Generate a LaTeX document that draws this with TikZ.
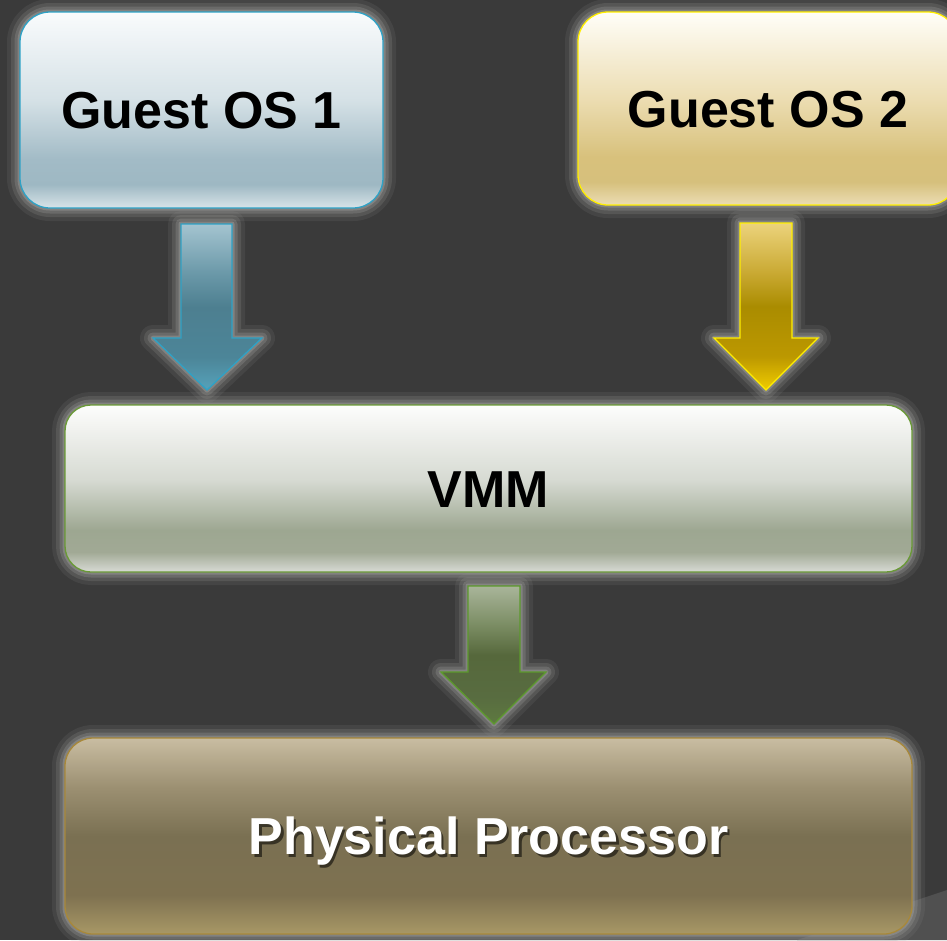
\documentclass[tikz,border=0pt]{standalone}
\usepackage{fontspec}
\setmainfont{Liberation Sans}

% palette
\definecolor{bgc}{HTML}{3A3A3A}
\definecolor{bgcorner}{HTML}{505050}
\definecolor{glowc}{HTML}{9A9A98}
% guest 1 (blue)
\definecolor{gaA}{HTML}{F9FBFC}
\definecolor{gaB}{HTML}{D5E1E6}
\definecolor{gaC}{HTML}{A2BBC6}
\definecolor{gaD}{HTML}{9EB8C3}
\definecolor{gaE}{HTML}{D8E4E8}
\definecolor{gaEdge}{HTML}{2EA2C6}
% guest 2 (gold)
\definecolor{gbA}{HTML}{FFFEF8}
\definecolor{gbB}{HTML}{ECDDB2}
\definecolor{gbC}{HTML}{D8C17C}
\definecolor{gbD}{HTML}{D6C07C}
\definecolor{gbE}{HTML}{EBDDB4}
\definecolor{gbEdge}{HTML}{FFEE00}
% vmm (green-grey)
\definecolor{vmA}{HTML}{FDFDFC}
\definecolor{vmB}{HTML}{D6DAD2}
\definecolor{vmC}{HTML}{9DA791}
\definecolor{vmD}{HTML}{A1A995}
\definecolor{vmE}{HTML}{D8DBD5}
\definecolor{vmEdge}{HTML}{6A9A36}
% processor (bronze)
\definecolor{ppA}{HTML}{C9BDA2}
\definecolor{ppB}{HTML}{9C9072}
\definecolor{ppC}{HTML}{7A7052}
\definecolor{ppD}{HTML}{7E7150}
\definecolor{ppE}{HTML}{A89866}
\definecolor{ppEdge}{HTML}{A8883A}
% arrows
\definecolor{aaA}{HTML}{A4C4D0}
\definecolor{aaB}{HTML}{6A98A8}
\definecolor{aaC}{HTML}{4D7F90}
\definecolor{aaD}{HTML}{4C8598}
\definecolor{aaE}{HTML}{56A2BA}
\definecolor{abA}{HTML}{ECD37C}
\definecolor{abB}{HTML}{C9A932}
\definecolor{abC}{HTML}{AA8C00}
\definecolor{abD}{HTML}{BC9800}
\definecolor{abE}{HTML}{F0CC00}
\definecolor{acA}{HTML}{A9B59A}
\definecolor{acB}{HTML}{788A60}
\definecolor{acC}{HTML}{56683C}
\definecolor{acD}{HTML}{586C40}
\definecolor{acE}{HTML}{5E7A40}
\definecolor{acEdge}{HTML}{5C9A2C}

% vertical shadings: 25bp = bottom of the shape, 75bp = top
\newcommand{\mkshade}[6]{%
  \pgfdeclareverticalshading{#1}{100bp}{%
    color(0bp)=(#6); color(25bp)=(#6); color(31bp)=(#5);
    color(37.5bp)=(#4); color(52.5bp)=(#3); color(75bp)=(#2); color(100bp)=(#2)}}
\mkshade{shGa}{gaA}{gaB}{gaC}{gaD}{gaE}
\mkshade{shGb}{gbA}{gbB}{gbC}{gbD}{gbE}
\mkshade{shVm}{vmA}{vmB}{vmC}{vmD}{vmE}
\pgfdeclareverticalshading{shPp}{100bp}{%
  color(0bp)=(ppE); color(25bp)=(ppE); color(35bp)=(ppD);
  color(50bp)=(ppC); color(62.5bp)=(ppB); color(75bp)=(ppA); color(100bp)=(ppA)}
\newcommand{\mkarrowshade}[6]{%
  \pgfdeclareverticalshading{#1}{100bp}{%
    color(0bp)=(#6); color(25bp)=(#6); color(35bp)=(#5);
    color(50bp)=(#4); color(60bp)=(#3); color(75bp)=(#2); color(100bp)=(#2)}}
\mkarrowshade{shAa}{aaA}{aaB}{aaC}{aaD}{aaE}
\mkarrowshade{shAb}{abA}{abB}{abC}{abD}{abE}
\mkarrowshade{shAc}{acA}{acB}{acC}{acD}{acE}

\tikzset{
  glow/.style={
    preaction={draw=glowc, line width=26pt, draw opacity=0.12, line join=round},
    preaction={draw=glowc, line width=18pt, draw opacity=0.2, line join=round},
    preaction={draw=glowc, line width=11pt, draw opacity=0.3, line join=round},
    preaction={draw=glowc, line width=5pt, draw opacity=0.5, line join=round}},
  layerbox/.style={glow, rectangle, rounded corners=#1, inner sep=0pt,
    line width=1.3pt, font=\fontsize{52}{60}\selectfont\bfseries,
    text height=37pt, text depth=0pt},
  blockarrow/.style={glow, line width=1.3pt, line join=miter},
}

\begin{document}
\begin{tikzpicture}[x=1pt, y=-1pt]
  % canvas
  \fill[bgc] (0,0) rectangle (947,940);
  \fill[bgcorner] (797,940) -- (947,890) -- (947,940) -- cycle;
  \useasboundingbox (0,0) rectangle (947,940);

  % layers
  \node[layerbox=30pt, draw=gaEdge, shading=shGa, minimum width=363pt,
        minimum height=196pt] (guest1) at (201.5,110) {Guest OS 1};
  \node[layerbox=30pt, draw=gbEdge, shading=shGb, minimum width=380pt,
        minimum height=193pt] (guest2) at (768,108.5) {Guest OS 2};
  \node[layerbox=26pt, draw=vmEdge, shading=shVm, minimum width=847pt,
        minimum height=167pt] (vmm) at (488.5,488.5) {VMM};
  \node[layerbox=28pt, draw=ppEdge, shading=shPp, minimum width=847pt,
        minimum height=196pt] (cpu) at (488.5,836) {};
  \node[font=\fontsize{52}{60}\selectfont\bfseries, text=black, opacity=0.55,
        text height=37pt, text depth=0pt]
        (cpushadow) at ([shift={(2.5,2.5)}]cpu.center) {Physical Processor};
  \node[font=\fontsize{52}{60}\selectfont\bfseries, text=white,
        text height=37pt, text depth=0pt]
        (cpulabel) at (cpu.center) {Physical Processor};

  % block arrows between the layers
  \path[blockarrow, draw=gaEdge, shading=shAa]
    (181,224) -- (232,224) -- (232,338) -- (262,338) -- (207,390)
    -- (153,338) -- (181,338) -- cycle;
  \path[blockarrow, draw=gbEdge, shading=shAb]
    (740,223) -- (792,223) -- (792,338) -- (818,338) -- (766,390)
    -- (714,338) -- (740,338) -- cycle;
  \path[blockarrow, draw=acEdge, shading=shAc]
    (468,586) -- (520,586) -- (520,672) -- (546,672) -- (494,724)
    -- (441,672) -- (468,672) -- cycle;
\end{tikzpicture}
\end{document}
